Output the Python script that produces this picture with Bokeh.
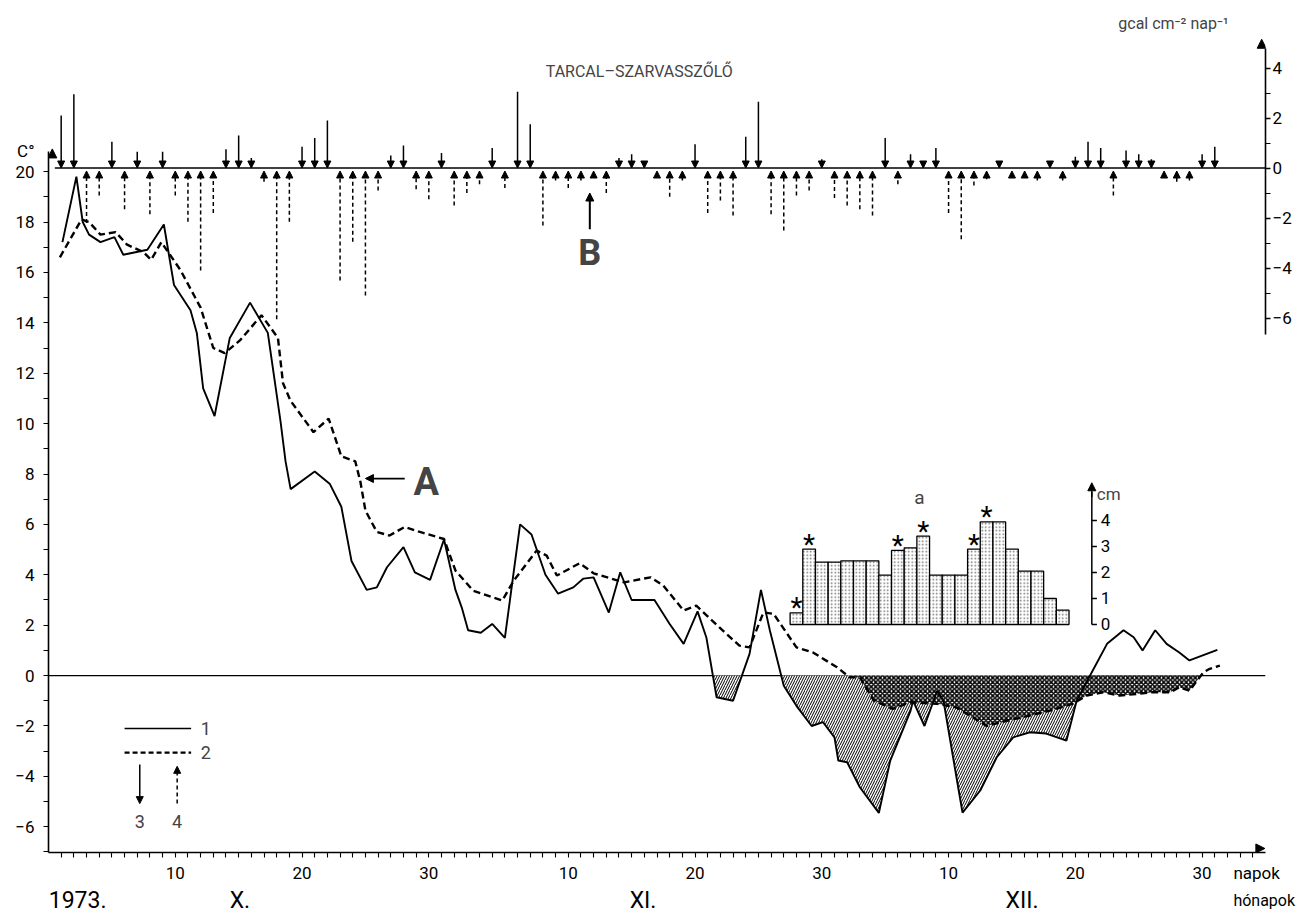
from bokeh.plotting import figure
from bokeh.models import (Range1d, LinearAxis, FixedTicker, Arrow, NormalHead,
                          Label, ColumnDataSource)
from bokeh.core.properties import value
from bokeh.embed import file_html
from bokeh.resources import INLINE

FONT = "Roboto"

# ---------------- data ----------------
# daily radiation balance (gcal cm-2 day-1), day 1 = 1 Oct 1973
RAD_DAYS = list(range(1, 93))
RAD_BALANCE = [2.1, 2.95, -2.2, -1.1, 1.05, -1.65, 0.65, -1.85, 0.65, -1.1,
               -2.15, -4.1, -1.8, 0.75, 1.3, 0.4, -0.55, -6.05, -2.15, 0.85,
               1.2, 1.9, -4.5, -2.95, -5.1, -0.9, 0.5, 0.9, -0.85, -1.25,
               0.6, -1.5, -1.0, -0.65, 0.8, -0.8, 3.05, 1.75, -2.3, -0.5,
               -0.8, -0.5, -0.3, -1.0, 0.4, 0.55, 0.2, -0.25, -1.15, -0.5,
               0.95, -1.8, -1.3, -1.9, 1.25, 2.65, -1.85, -2.5, -1.1, -0.9,
               0.35, -1.2, -1.5, -1.65, -1.9, 1.2, -0.65, 0.55, 0.2, 0.8,
               -1.8, -2.85, -0.7, -0.45, 0.15, -0.3, -0.3, -0.5, 0.2, -0.5,
               0.45, 1.05, 0.8, -1.1, 0.7, 0.55, 0.35, -0.2, -0.55, -0.5,
               0.55, 0.85]

# curve 1 (solid)
T1_DAYS = [1.1, 2.2, 2.7, 3.2, 4.1, 5.2, 5.9, 7.8, 9.1, 9.5, 9.9, 11.2, 11.7, 12.2, 13.1,
           14.3, 15.9, 17.3, 18.3, 18.7, 19.1, 21.0, 22.2, 23.1, 23.9, 25.1, 25.9, 26.7,
           28.0, 28.9, 30.1, 31.2, 32.1, 32.6, 33.1, 34.1, 35.0, 36.0, 37.2, 38.1, 39.2,
           40.2, 41.4, 42.2, 43.0, 44.2, 45.1, 46.0, 47.8, 49.0, 50.1, 51.2, 51.9, 52.7,
           54.0, 55.3, 56.2, 56.9, 58.0, 59.0, 60.2, 61.1, 62.0, 62.3, 63.0, 64.0, 65.5,
           66.4, 68.0, 68.2, 69.1, 70.1, 70.6, 71.8, 72.1, 73.5, 74.8, 76.1, 77.4, 78.7,
           80.3, 81.1, 82.3, 83.5, 84.8, 85.6, 86.3, 87.3, 88.2, 89.2, 90.0, 92.2]
T1_VALUES = [17.2, 19.8, 18.0, 17.5, 17.2, 17.4, 16.7, 16.9, 17.9, 16.7, 15.5, 14.5, 13.6, 11.4, 10.3,
             13.4, 14.8, 13.6, 10.1, 8.5, 7.4, 8.1, 7.6, 6.7, 4.55, 3.4, 3.5, 4.3,
             5.1, 4.1, 3.8, 5.4, 3.4, 2.7, 1.8, 1.7, 2.05, 1.5, 6.0, 5.6, 4.0,
             3.25, 3.5, 3.85, 3.9, 2.5, 4.1, 3.0, 3.0, 2.05, 1.26, 2.55, 1.5, -0.86,
             -1.0, 0.86, 3.4, 1.8, -0.4, -1.2, -2.0, -1.85, -2.45, -3.37, -3.44, -4.43, -5.45,
             -3.37, -1.4, -1.0, -2.0, -0.6, -1.0, -4.56, -5.44, -4.56, -3.24, -2.45, -2.25, -2.3,
             -2.58, -1.0, 0.13, 1.26, 1.8, 1.52, 1.0, 1.8, 1.26, 0.92, 0.6, 1.02]

# curve 2 (dashed)
T2_DAYS = [0.9, 2.6, 3.2, 4.1, 5.3, 6.2, 7.5, 8.1, 8.9, 10.4, 12.0, 13.0, 13.9, 15.1, 16.8,
           18.1, 18.5, 19.1, 20.9, 22.1, 23.1, 24.2, 24.6, 25.0, 25.9, 26.9, 28.1, 29.3,
           31.2, 32.1, 33.5, 35.8, 36.7, 38.5, 39.3, 40.1, 41.9, 43.0, 45.4, 47.5, 48.5,
           50.1, 51.1, 52.9, 54.5, 55.3, 56.4, 57.2, 59.0, 60.3, 62.2, 63.2, 64.0, 65.1,
           66.6, 68.0, 70.1, 71.6, 72.9, 74.0, 75.1, 77.4, 79.0, 80.8, 81.9, 83.2, 84.5,
           85.8, 87.1, 88.5, 89.2, 90.0, 91.1, 91.6, 92.4]
T2_VALUES = [16.6, 18.1, 18.0, 17.5, 17.6, 17.1, 16.8, 16.5, 17.2, 16.1, 14.6, 13.0, 12.8, 13.3, 14.3,
             13.4, 11.6, 10.9, 9.66, 10.2, 8.7, 8.5, 7.7, 6.55, 5.7, 5.56, 5.9, 5.7,
             5.42, 4.17, 3.37, 2.98, 3.77, 4.96, 4.76, 3.97, 4.46, 4.06, 3.7, 3.9, 3.57,
             2.58, 2.78, 1.92, 1.19, 1.12, 2.51, 2.45, 1.12, 0.92, 0.33, -0.07, -0.07, -0.99,
             -1.32, -1.06, -1.12, -1.26, -1.65, -2.0, -1.85, -1.59, -1.39, -1.12, -0.79, -0.66, -0.79,
             -0.73, -0.66, -0.66, -0.46, -0.6, 0.13, 0.27, 0.4]

# inset "a": snow depth (cm)
SNOW_DAYS = list(range(59, 81))
SNOW_CM = [0.45, 2.9, 2.4, 2.4, 2.45, 2.45, 2.45, 1.9, 2.85, 2.95, 3.4, 1.9, 1.9, 1.9,
           2.9, 3.95, 3.95, 2.9, 2.05, 2.05, 1.0, 0.55]
SNOW_STAR_DAYS = [59, 60, 67, 69, 73, 74]

X_TICKS = [10, 20, 30, 41, 51, 61, 71, 81, 91]
X_TICK_LABELS = ["10", "20", "30", "10", "20", "30", "10", "20", "30"]
X_UNIT_POS, X_UNIT = 95.3, "napok"
MONTH_CENTERS = [2.3, 15.1, 46.9, 76.8]
MONTH_LABELS = ["1973.", "X.", "XI.", "XII."]
MONTH_UNIT_POS, MONTH_UNIT = 95.9, "hónapok"
T_TICKS = list(range(-6, 21, 2))
T_UNIT_POS, T_UNIT = 20.8, "C°"
G_TICKS = [-6, -4, -2, 0, 2, 4]
CM_TICKS = [0, 1, 2, 3, 4]
LEGEND_LABELS = ["1", "2", "3", "4"]


def minus(v):
    return ("\u2212" + str(abs(v))) if v < 0 else str(v)


def below_zero(xs, ys):
    ox, oy = [], []
    for i in range(len(xs)):
        if i > 0 and (ys[i - 1] < 0) != (ys[i] < 0):
            x0, y0, x1, y1 = xs[i - 1], ys[i - 1], xs[i], ys[i]
            ox.append(x0 + (0 - y0) * (x1 - x0) / (y1 - y0))
            oy.append(0.0)
        ox.append(xs[i])
        oy.append(min(ys[i], 0.0))
    return ox, oy


def head(size=7):
    return NormalHead(size=size, fill_color="black", line_color="black", line_width=1)


# ---------------- figure ----------------
p = figure(width=1304, height=920, x_range=Range1d(0, 96), y_range=Range1d(-7.02, 26.79),
           output_backend="svg", toolbar_location=None, title=None,
           min_border_left=48, min_border_right=39, min_border_top=0, min_border_bottom=68)
p.extra_y_ranges = {"g": Range1d(-27.38, 6.7), "cm": Range1d(-8.77, 24.0)}
p.grid.visible = False
p.outline_line_color = None


def style_axis(ax, size="17px"):
    ax.axis_line_width = 1.6
    ax.axis_line_color = "black"
    ax.major_tick_line_width = 1.3
    ax.minor_tick_line_width = 1.1
    ax.major_tick_in = 0
    ax.minor_tick_in = 0
    ax.major_label_text_font = FONT
    ax.major_label_text_font_size = size
    ax.major_label_text_color = "black"


def text_axis(ticks, labels, size, standoff):
    ax = LinearAxis(ticker=FixedTicker(ticks=ticks, minor_ticks=[]))
    style_axis(ax, size)
    ax.axis_line_color = None
    ax.major_tick_line_color = None
    ax.major_tick_out = 0
    ax.major_label_standoff = standoff
    ax.major_label_overrides = {t: l for t, l in zip(ticks, labels)}
    return ax


# bottom day axis (tick marks drawn as minor ticks, major ticks only carry labels)
xa = p.xaxis[0]
style_axis(xa)
xa.ticker = FixedTicker(ticks=X_TICKS + [X_UNIT_POS], minor_ticks=list(range(1, 96)))
ov = {t: l for t, l in zip(X_TICKS, X_TICK_LABELS)}
ov[X_UNIT_POS] = X_UNIT
xa.major_label_overrides = ov
xa.major_tick_line_color = None
xa.major_tick_out = 5
xa.minor_tick_out = 5
xa.major_label_standoff = 5
xa.bounds = (0, 96)

# second row: "hónapok" and the month names
p.add_layout(text_axis([MONTH_UNIT_POS], [MONTH_UNIT], "16px", 5), "below")
p.add_layout(text_axis(MONTH_CENTERS, MONTH_LABELS, "23px", -26), "below")

# left temperature axis
ya = p.yaxis[0]
style_axis(ya)
ya.ticker = FixedTicker(ticks=T_TICKS + [T_UNIT_POS], minor_ticks=list(range(-7, 21)))
yov = {t: minus(t) for t in T_TICKS}
yov[T_UNIT_POS] = T_UNIT
ya.major_label_overrides = yov
ya.major_tick_line_color = None
ya.major_tick_out = 6
ya.minor_tick_out = 5
ya.major_label_standoff = 8
ya.bounds = (-7.02, 20.8)

# right radiation axis
ga = LinearAxis(y_range_name="g",
                ticker=FixedTicker(ticks=G_TICKS, minor_ticks=[-5, -3, -1, 1, 3]),
                bounds=(-6.65, 4.8))
style_axis(ga)
ga.major_tick_out = 5
ga.minor_tick_out = 5
ga.major_label_standoff = 2
ga.major_label_overrides = {t: minus(t) for t in G_TICKS}
p.add_layout(ga, "right")

# axis arrow heads
for xs, xe, ys, ye, rn in [(0.3, 0.3, 20.2, 20.9, "default"), (95.7, 95.7, 4.5, 5.15, "g"),
                           (94.8, 95.95, -6.86, -6.86, "default")]:
    p.add_layout(Arrow(x_start=xs, x_end=xe, y_start=ys, y_end=ye, y_range_name=rn,
                       line_width=0.1, line_alpha=0, end=head(9)))

# zero lines
p.segment(x0=[0], y0=[0], x1=[96], y1=[0], line_color="black", line_width=1.4)
p.segment(x0=[0.5], y0=[0], x1=[96], y1=[0], y_range_name="g", line_color="black", line_width=1.7)

# hatched areas below 0 deg
sx, sy = below_zero(T1_DAYS, T1_VALUES)
p.varea(x=sx, y1=[0.0] * len(sx), y2=sy, fill_color="white", fill_alpha=1.0,
        hatch_pattern="/", hatch_scale=5, hatch_weight=1.0, hatch_color="black")
dx, dy = below_zero(T2_DAYS, T2_VALUES)
p.varea(x=dx, y1=[0.0] * len(dx), y2=dy, fill_color="white", fill_alpha=1.0,
        hatch_pattern="x", hatch_scale=4.5, hatch_weight=1.6, hatch_color="black")

# temperature curves
p.line(T1_DAYS, T1_VALUES, line_color="black", line_width=1.9)
p.line(T2_DAYS, T2_VALUES, line_color="black", line_width=2.4, line_dash="7 4")

# radiation arrows
pos = [(d, v) for d, v in zip(RAD_DAYS, RAD_BALANCE) if v > 0]
neg = [(d, v) for d, v in zip(RAD_DAYS, RAD_BALANCE) if v < 0]
src_pos = ColumnDataSource(dict(x=[d for d, _ in pos], y0=[v for _, v in pos], y1=[0.0] * len(pos)))
src_neg = ColumnDataSource(dict(x=[d for d, _ in neg], y0=[v for _, v in neg], y1=[-0.12] * len(neg)))
p.add_layout(Arrow(source=src_pos, x_start="x", x_end="x", y_start="y0", y_end="y1", y_range_name="g",
                   line_width=1.5, line_color="black", end=head(7)))
p.add_layout(Arrow(source=src_neg, x_start="x", x_end="x", y_start="y0", y_end="y1", y_range_name="g",
                   line_width=1.5, line_color="black", line_dash="4 3", end=head(7)))

# inset bars (snow)
p.vbar(x=SNOW_DAYS, top=SNOW_CM, bottom=0, width=1.0, y_range_name="cm",
       fill_color="white", line_color="black", line_width=1.3,
       hatch_pattern="dot", hatch_scale=3.5, hatch_weight=1.0, hatch_color="black", hatch_alpha=0.55)
star_tops = [SNOW_CM[SNOW_DAYS.index(d)] for d in SNOW_STAR_DAYS]
p.text(x=SNOW_STAR_DAYS, y=star_tops, text=["*"] * len(SNOW_STAR_DAYS), y_range_name="cm",
       text_font=value(FONT), text_font_size="28px", text_align="center",
       text_baseline="alphabetic", y_offset=-5, text_color="black")

# inset cm axis
CM_X = 82.3
p.segment(x0=[CM_X], y0=[0], x1=[CM_X], y1=[5.1], y_range_name="cm", line_color="black", line_width=1.5)
p.segment(x0=[CM_X] * len(CM_TICKS), y0=CM_TICKS, x1=[CM_X + 0.4] * len(CM_TICKS), y1=CM_TICKS,
          y_range_name="cm", line_color="black", line_width=1.3)
p.text(x=[CM_X] * len(CM_TICKS), y=CM_TICKS, text=[str(t) for t in CM_TICKS], y_range_name="cm",
       text_font=value(FONT), text_font_size="17px", text_align="left", text_baseline="middle",
       x_offset=9, text_color="black")
p.add_layout(Arrow(x_start=CM_X, x_end=CM_X, y_start=4.9, y_end=5.45, y_range_name="cm", line_width=1.5,
                   end=head(8)))
p.add_layout(Label(x=CM_X, y=5.02, y_range_name="cm", text="cm", x_offset=5, text_font=FONT,
                   text_font_size="17px", text_align="left", text_baseline="middle"))
p.add_layout(Label(x=68.7, y=4.88, y_range_name="cm", text="a", text_font=FONT,
                   text_font_size="19px", text_align="center", text_baseline="middle"))

# legend
p.line([6.0, 11.25], [-2.1, -2.1], line_color="black", line_width=1.6)
p.line([6.0, 11.25], [-3.06, -3.06], line_color="black", line_width=2.2, line_dash="5 3")
p.add_layout(Arrow(x_start=7.2, x_end=7.2, y_start=-3.53, y_end=-5.08, line_width=1.5, end=head(7)))
p.add_layout(Arrow(x_start=10.15, x_end=10.15, y_start=-5.08, y_end=-3.6, line_width=1.5, line_dash="4 3",
                   end=head(7)))
for lx, ly, lt in [(12.4, -2.1, LEGEND_LABELS[0]), (12.4, -3.06, LEGEND_LABELS[1]),
                   (7.2, -5.8, LEGEND_LABELS[2]), (10.15, -5.8, LEGEND_LABELS[3])]:
    p.add_layout(Label(x=lx, y=ly, text=lt, text_font=FONT, text_font_size="18px",
                       text_align="center", text_baseline="middle"))

# A and B markers
p.add_layout(Arrow(x_start=28.1, x_end=25.0, y_start=7.82, y_end=7.82, line_width=1.8, end=head(8)))
p.add_layout(Label(x=28.8, y=7.7, text="A", text_font=FONT, text_font_size="38px", text_font_style="bold",
                   text_align="left", text_baseline="middle"))
p.add_layout(Arrow(x_start=42.7, x_end=42.7, y_start=-2.45, y_end=-1.0, y_range_name="g", line_width=2,
                   end=head(8)))
p.add_layout(Label(x=42.7, y=-3.4, y_range_name="g", text="B", text_font=FONT, text_font_size="36px",
                   text_font_style="bold", text_align="center", text_baseline="middle"))

# texts
p.add_layout(Label(x=46.6, y=23.97, text="TARCAL\u2013SZARVASSZŐLŐ", text_font=FONT, text_font_size="16px",
                   text_align="center", text_baseline="middle"))
p.add_layout(Label(x=88.9, y=5.8, y_range_name="g", text="gcal  cm\u207b\u00b2 nap\u207b\u00b9", text_font=FONT,
                   text_font_size="16px", text_align="center", text_baseline="middle"))

open("out.html", "w").write(file_html(p, INLINE))
